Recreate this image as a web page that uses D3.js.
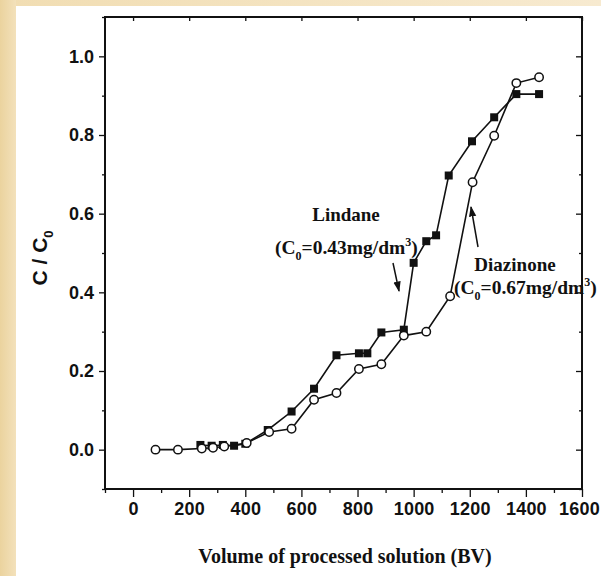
<!DOCTYPE html>
<html>
<head>
<meta charset="utf-8">
<script src="https://cdn.jsdelivr.net/npm/d3@7/dist/d3.min.js"></script>
<style>
  html, body { margin: 0; padding: 0; background: #ffffff; }
  svg { display: block; }
  .tick text { font-family: "Liberation Sans", Arial, sans-serif; font-weight: bold; font-size: 18px; fill: #111; }
  .serif { font-family: "Liberation Serif", "Times New Roman", serif; font-weight: bold; fill: #111; }
</style>
</head>
<body>
<svg id="chart" width="601" height="576"></svg>
<script>
// Breakthrough curves: volume of processed solution (BV) vs C/C0
const volumeLindane = [240, 280, 320, 360, 400, 480, 565, 645, 725, 805, 835, 885, 965, 1000, 1045, 1080, 1125, 1208, 1287, 1366, 1447];
const ratioLindane  = [0.012, 0.01, 0.012, 0.01, 0.015, 0.05, 0.097, 0.155, 0.24, 0.245, 0.245, 0.298, 0.305, 0.475, 0.53, 0.545, 0.697, 0.784, 0.845, 0.904, 0.904];

const volumeDiazinone = [80, 160, 245, 285, 325, 405, 485, 565, 645, 725, 805, 885, 965, 1045, 1130, 1210, 1287, 1366, 1447];
const ratioDiazinone  = [0, 0, 0.003, 0.005, 0.008, 0.017, 0.045, 0.053, 0.127, 0.144, 0.205, 0.217, 0.29, 0.30, 0.39, 0.68, 0.798, 0.932, 0.947];

const xTicks = [0, 200, 400, 600, 800, 1000, 1200, 1400, 1600];
const xMinorTicks = [-100, 100, 300, 500, 700, 900, 1100, 1300, 1500];
const yTicks = [0.0, 0.2, 0.4, 0.6, 0.8, 1.0];
const yMinorTicks = [-0.1, 0.1, 0.3, 0.5, 0.7, 0.9, 1.1];

const svg = d3.select("#chart");
const W = 601, H = 576;
const box = { left: 105, right: 582, top: 17, bottom: 489 };

// page backdrop: tan strips along the left and top edges
const defs = svg.append("defs");
const g1 = defs.append("linearGradient").attr("id", "edgeLeft").attr("x1", 0).attr("x2", 1).attr("y1", 0).attr("y2", 0);
g1.append("stop").attr("offset", 0).attr("stop-color", "#ebd39e");
g1.append("stop").attr("offset", 1).attr("stop-color", "#f3e1bb");
const g2 = defs.append("linearGradient").attr("id", "edgeTop").attr("x1", 0).attr("x2", 1).attr("y1", 0).attr("y2", 0);
g2.append("stop").attr("offset", 0).attr("stop-color", "#f1ddb2");
g2.append("stop").attr("offset", 1).attr("stop-color", "#f7ead0");
svg.append("rect").attr("width", W).attr("height", H).attr("fill", "#ffffff");
svg.append("rect").attr("x", 0).attr("y", 0).attr("width", W).attr("height", 6).attr("fill", "url(#edgeTop)");
svg.append("rect").attr("x", 0).attr("y", 0).attr("width", 16).attr("height", H).attr("fill", "url(#edgeLeft)");

const x = d3.scaleLinear().domain([-100, 1600]).range([box.left, box.right]);
const y = d3.scaleLinear().domain([-0.1, 1.1]).range([box.bottom, box.top]);

const axisStyle = g => {
  g.select(".domain").remove();
  g.selectAll(".tick line").attr("stroke", "#111").attr("stroke-width", 1.3);
};

// bottom axis
svg.append("g").attr("transform", `translate(0,${box.bottom})`)
  .call(d3.axisBottom(x).tickValues(xTicks).tickSize(8).tickPadding(5).tickFormat(d3.format("d")))
  .call(axisStyle)
  .call(g => g.selectAll(".tick text").attr("letter-spacing", "0.2px")
    .attr("dx", d => d === 1600 ? -3 : 0));
svg.append("g").attr("transform", `translate(0,${box.bottom})`)
  .call(d3.axisBottom(x).tickValues(xMinorTicks).tickSize(4).tickFormat(""))
  .call(axisStyle);

// top axis (inward ticks)
svg.append("g").attr("transform", `translate(0,${box.top})`)
  .call(d3.axisTop(x).tickValues(xTicks).tickSize(-4).tickFormat(""))
  .call(axisStyle);

// left axis
svg.append("g").attr("transform", `translate(${box.left},0)`)
  .call(d3.axisLeft(y).tickValues(yTicks).tickSize(6).tickPadding(5).tickFormat(d3.format(".1f")))
  .call(axisStyle);
svg.append("g").attr("transform", `translate(${box.left},0)`)
  .call(d3.axisLeft(y).tickValues(yMinorTicks).tickSize(3).tickFormat(""))
  .call(axisStyle);

// right axis (inward ticks)
svg.append("g").attr("transform", `translate(${box.right},0)`)
  .call(d3.axisRight(y).tickValues(yTicks).tickSize(-6).tickFormat(""))
  .call(axisStyle);
svg.append("g").attr("transform", `translate(${box.right},0)`)
  .call(d3.axisRight(y).tickValues(yMinorTicks).tickSize(-3).tickFormat(""))
  .call(axisStyle);

// frame
svg.append("rect")
  .attr("x", box.left).attr("y", box.top)
  .attr("width", box.right - box.left).attr("height", box.bottom - box.top)
  .attr("fill", "none").attr("stroke", "#111").attr("stroke-width", 2);

const line = d3.line().x(d => x(d[0])).y(d => y(d[1]));
const lindane = volumeLindane.map((v, i) => [v, ratioLindane[i]]);
const diazinone = volumeDiazinone.map((v, i) => [v, ratioDiazinone[i]]);

// Lindane: filled squares
svg.append("path").datum(lindane).attr("d", line)
  .attr("fill", "none").attr("stroke", "#111").attr("stroke-width", 1.6);
svg.append("g").selectAll("rect").data(lindane).join("rect")
  .attr("x", d => x(d[0]) - 4).attr("y", d => y(d[1]) - 4)
  .attr("width", 8).attr("height", 8).attr("fill", "#111");

// Diazinone: open circles
svg.append("path").datum(diazinone).attr("d", line)
  .attr("fill", "none").attr("stroke", "#111").attr("stroke-width", 1.6);
svg.append("g").selectAll("circle").data(diazinone).join("circle")
  .attr("cx", d => x(d[0])).attr("cy", d => y(d[1])).attr("r", 4.2)
  .attr("fill", "#fff").attr("stroke", "#111").attr("stroke-width", 1.5);

// axis titles
const yTitle = svg.append("text")
  .attr("transform", "translate(47,258) rotate(-90)")
  .attr("text-anchor", "middle")
  .attr("font-family", "Liberation Sans, Arial, sans-serif")
  .attr("font-weight", "bold").attr("font-size", 21).attr("fill", "#111");
yTitle.append("tspan").text("C / C");
yTitle.append("tspan").attr("font-size", 13).attr("dy", 6).text("0");

svg.append("text").attr("class", "serif")
  .attr("x", 345).attr("y", 563).attr("text-anchor", "middle")
  .attr("font-size", 20).text("Volume of processed solution (BV)");

// annotations
defs.append("marker").attr("id", "head").attr("viewBox", "0 0 10 10")
  .attr("refX", 9).attr("refY", 5).attr("markerWidth", 7).attr("markerHeight", 7)
  .attr("orient", "auto")
  .append("path").attr("d", "M0,1.5 L10,5 L0,8.5 Z").attr("fill", "#111");

function label(xp, yp, name, c0) {
  svg.append("text").attr("class", "serif").attr("x", xp.name).attr("y", yp.name)
    .attr("text-anchor", "middle").attr("font-size", 19).text(name);
  const t = svg.append("text").attr("class", "serif").attr("x", xp.conc).attr("y", yp.conc)
    .attr("font-size", 19.5);
  t.append("tspan").text("(C");
  t.append("tspan").attr("font-size", 12).attr("dy", 6).text("0");
  t.append("tspan").attr("dy", -6).text("=" + c0 + "mg/dm");
  t.append("tspan").attr("font-size", 12).attr("dy", -8).text("3");
  t.append("tspan").attr("dy", 8).text(")");
}
label({ name: 346, conc: 275 }, { name: 221, conc: 254 }, "Lindane", "0.43");
label({ name: 515, conc: 454 }, { name: 271, conc: 294 }, "Diazinone", "0.67");

svg.append("line").attr("x1", 393).attr("y1", 263).attr("x2", 399).attr("y2", 291)
  .attr("stroke", "#111").attr("stroke-width", 1.5).attr("marker-end", "url(#head)");
svg.append("line").attr("x1", 478).attr("y1", 247).attr("x2", 471).attr("y2", 207)
  .attr("stroke", "#111").attr("stroke-width", 1.5).attr("marker-end", "url(#head)");
</script>
</body>
</html>
